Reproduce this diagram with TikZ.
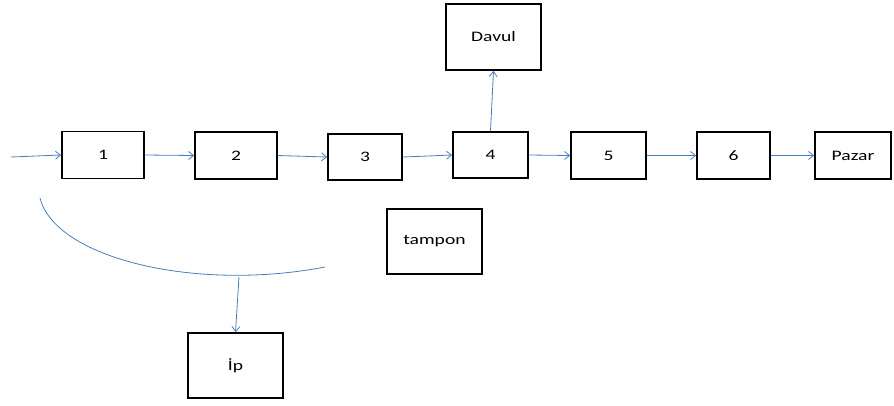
\documentclass[tikz,border=0pt]{standalone}
\usepackage{fontspec}
\newfontfamily\labfont[FakeStretch=1.35]{Carlito}
\usetikzlibrary{arrows.meta}
\definecolor{linkblue}{HTML}{4A7EBB}
\begin{document}
\begin{tikzpicture}[x=1pt,y=-1pt,
  boxnode/.style={draw=black,line width=1.8pt,fill=white,minimum width=#1,minimum height=47pt,inner sep=0pt,font=\labfont\fontsize{14.5}{16}\selectfont},
  boxnode/.default=80pt,
  link/.style={draw=linkblue,line width=0.8pt,-{Straight Barb[length=5pt,width=8pt,line width=0.8pt]}},
  curveline/.style={draw=linkblue,line width=0.8pt}]
\useasboundingbox (0,0) rectangle (894,405);
\node[boxnode=82pt] (n1) at (103,155) {1};
\node[boxnode=82pt] (n2) at (236,155.5) {2};
\node[boxnode=74pt,minimum height=46pt] (n3) at (365,157) {3};
\node[boxnode=75pt,minimum height=46pt] (n4) at (490.5,155) {4};
\node[boxnode=75pt] (n5) at (608.5,155.5) {5};
\node[boxnode=73pt] (n6) at (733.5,155.5) {6};
\node[boxnode=76pt] (pazar) at (853,155.5) {Pazar};
\node[boxnode=95pt,minimum height=66pt] (davul) at (493.5,37) {Davul};
\node[boxnode=95pt,minimum height=65pt] (tampon) at (434.5,241.5) {tampon};
\node[boxnode=95pt,minimum height=65pt] (ip) at (235.5,365.5) {İp};
\coordinate (start) at (11,157);
\coordinate (a1) at (40,198);
\coordinate (a2) at (325,267);
\coordinate (ipa) at (239,277);
\draw[link] (start) -- (n1.west);
\draw[link] (n1.east) -- (n2.west);
\draw[link] (n2.east) -- (n3.west);
\draw[link] (n3.east) -- (n4.west);
\draw[link] (n4.north) -- (davul.south);
\draw[link] (n4.east) -- (n5.west);
\draw[link] (n5.east) -- (n6.west);
\draw[link] (n6.east) -- (pazar.west);
\draw[curveline] (a1) .. controls (55,258) and (195,292) .. (a2);
\draw[link] (ipa) -- (ip.north);
\end{tikzpicture}
\end{document}
